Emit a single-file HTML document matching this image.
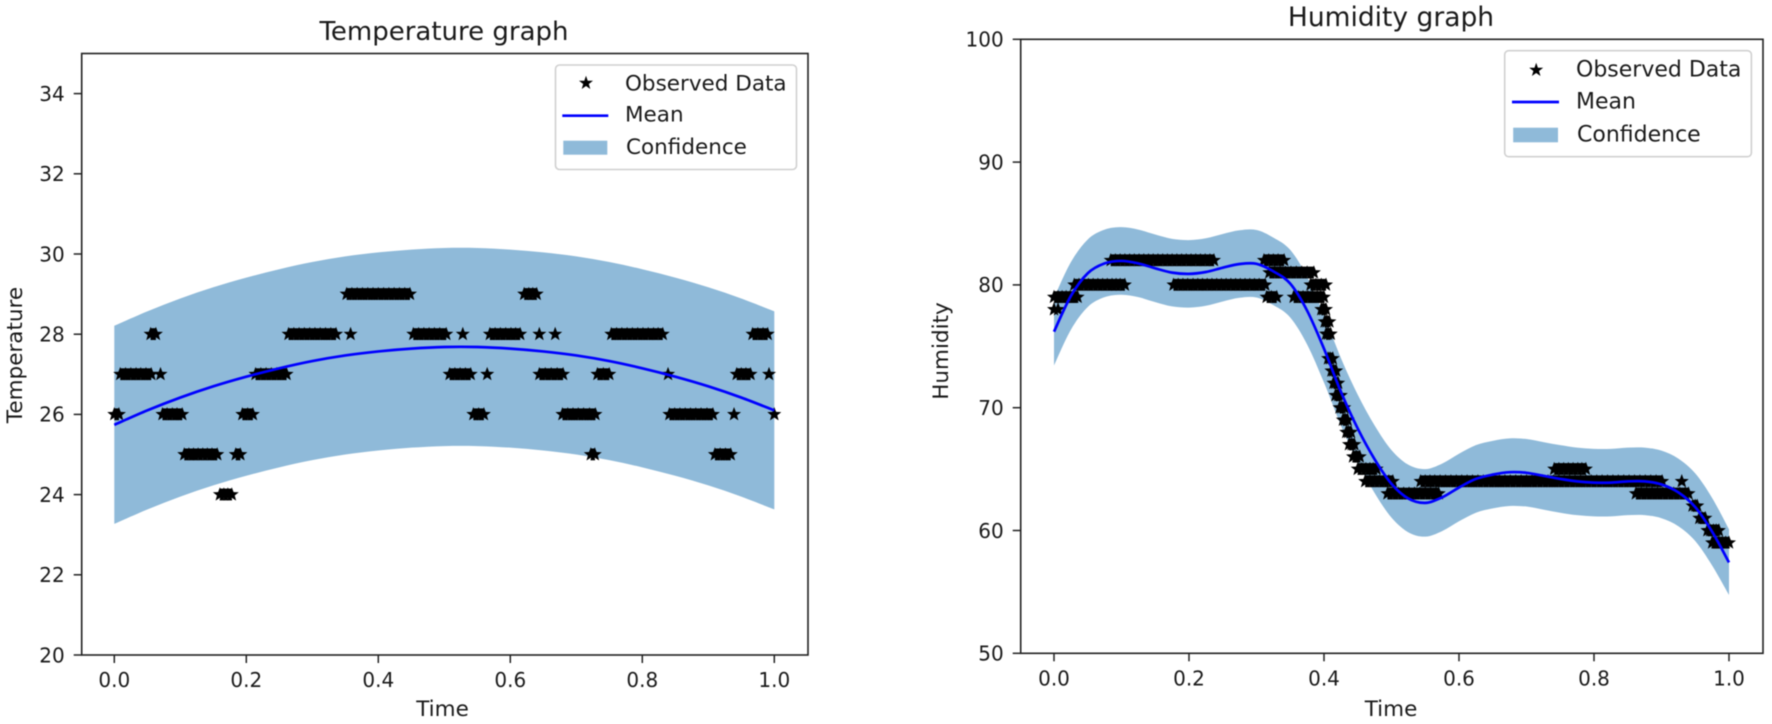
<!DOCTYPE html>
<html>
<head>
<meta charset="utf-8">
<title>Temperature and Humidity graphs</title>
<style>
html,body{margin:0;padding:0;background:#fff;width:1772px;height:724px;overflow:hidden}
svg{display:block;filter:blur(0.4px)}
text{font-family:"DejaVu Sans","Liberation Sans",sans-serif;fill:#1a1a1a;font-size:20px}
.lab{font-size:21.5px}
.leg-r{font-size:22px}
</style>
</head>
<body>
<svg id="figure" xmlns="http://www.w3.org/2000/svg" width="1772" height="724" viewBox="0 0 1772 724">
  <g id="temp-plot"></g>
  <g id="hum-plot"></g>

  <text x="444" y="40" text-anchor="middle" style="font-size:26px">Temperature graph</text>
  <text class="lab" x="442.5" y="716" text-anchor="middle">Time</text>
  <text class="lab" transform="translate(22,355) rotate(-90)" text-anchor="middle">Temperature</text>

  <text x="1391" y="26" text-anchor="middle" style="font-size:26.5px">Humidity graph</text>
  <text class="lab" x="1391" y="716" text-anchor="middle">Time</text>
  <text class="lab" transform="translate(948,351) rotate(-90)" text-anchor="middle">Humidity</text>

  <g>
    <rect x="555.5" y="65" width="241" height="104.5" rx="4" fill="#fff" fill-opacity="0.8" stroke="#d0d0d0" stroke-width="1.6"/>
    <path fill="#000" d="M586 75.7L587.7 80.7L593 80.7L588.8 84L590.3 89L586 86L581.7 89L583.2 84L579 80.7L584.3 80.7Z"/>
    <line x1="562.3" x2="608.3" y1="115.7" y2="115.7" stroke="#0000ff" stroke-width="2.7"/>
    <rect x="563.3" y="140.7" width="44" height="14" fill="#8fbad9"/>
    <text class="lab" x="625" y="90.7">Observed Data</text>
    <text class="lab" x="625" y="121.7">Mean</text>
    <text class="lab" x="626" y="154">Confidence</text>
  </g>

  <g>
    <rect x="1504.7" y="50.7" width="246.7" height="106" rx="4" fill="#fff" fill-opacity="0.8" stroke="#d0d0d0" stroke-width="1.6"/>
    <path fill="#000" d="M1536.2 62.7L1537.9 67.7L1543.2 67.7L1539 71L1540.5 76L1536.2 73L1531.9 76L1533.4 71L1529.2 67.7L1534.5 67.7Z"/>
    <line x1="1512" x2="1559" y1="102" y2="102" stroke="#0000ff" stroke-width="2.7"/>
    <rect x="1513.2" y="127.7" width="44.8" height="14.6" fill="#8fbad9"/>
    <text class="leg-r" x="1576" y="76.7">Observed Data</text>
    <text class="leg-r" x="1576" y="108.3">Mean</text>
    <text class="leg-r" x="1577" y="141.7">Confidence</text>
  </g>
</svg>

<script>
/* ---------- Shared tick labels ---------- */
const xTickValues = [0, 0.2, 0.4, 0.6, 0.8, 1.0];
const xTickLabels = ["0.0", "0.2", "0.4", "0.6", "0.8", "1.0"];

/* ---------- Temperature chart data ---------- */
const tempYTicks = [20, 22, 24, 26, 28, 30, 32, 34];
const tempCurveTimes = [0, 0.05, 0.1, 0.15, 0.2, 0.25, 0.3, 0.35, 0.4, 0.45, 0.5, 0.55, 0.6, 0.65, 0.7, 0.75, 0.8, 0.85, 0.9, 0.95, 1];
const tempMean = [25.74, 26.1, 26.42, 26.7, 26.94, 27.15, 27.33, 27.47, 27.57, 27.64, 27.68, 27.68, 27.64, 27.57, 27.47, 27.33, 27.15, 26.94, 26.7, 26.42, 26.1];
const tempUpper = [28.21, 28.57, 28.89, 29.17, 29.41, 29.62, 29.8, 29.94, 30.04, 30.11, 30.15, 30.15, 30.11, 30.04, 29.94, 29.8, 29.62, 29.41, 29.17, 28.89, 28.57];
const tempLower = [23.27, 23.63, 23.95, 24.23, 24.47, 24.68, 24.86, 25.0, 25.1, 25.17, 25.21, 25.21, 25.17, 25.1, 25.0, 24.86, 24.68, 24.47, 24.23, 23.95, 23.63];
const tempObsLevels = [24, 25, 26, 27, 28, 29];
const tempObsTimes = [
  [0.160, 0.166, 0.172, 0.178],
  [0.106, 0.113, 0.120, 0.127, 0.134, 0.141, 0.148, 0.156, 0.184, 0.191, 0.722, 0.728, 0.910, 0.918, 0.926, 0.934],
  [0, 0.007, 0.073, 0.080, 0.088, 0.095, 0.103, 0.194, 0.202, 0.210, 0.544, 0.552, 0.560, 0.679, 0.687, 0.695, 0.703, 0.711, 0.720, 0.729, 0.841, 0.849, 0.857, 0.865, 0.873, 0.881, 0.889, 0.898, 0.907, 0.939, 1.0],
  [0.009, 0.017, 0.025, 0.033, 0.040, 0.048, 0.056, 0.070, 0.214, 0.222, 0.230, 0.238, 0.246, 0.254, 0.261, 0.508, 0.516, 0.524, 0.532, 0.540, 0.565, 0.644, 0.653, 0.662, 0.671, 0.680, 0.732, 0.741, 0.750, 0.839, 0.943, 0.950, 0.957, 0.964, 0.992],
  [0.055, 0.063, 0.264, 0.272, 0.280, 0.288, 0.296, 0.304, 0.312, 0.320, 0.328, 0.336, 0.358, 0.453, 0.461, 0.469, 0.477, 0.485, 0.493, 0.503, 0.528, 0.569, 0.577, 0.585, 0.593, 0.601, 0.608, 0.615, 0.644, 0.668, 0.753, 0.761, 0.769, 0.777, 0.785, 0.793, 0.801, 0.809, 0.817, 0.824, 0.831, 0.967, 0.975, 0.983, 0.990],
  [0.352, 0.360, 0.368, 0.376, 0.384, 0.392, 0.400, 0.408, 0.416, 0.424, 0.432, 0.440, 0.448, 0.621, 0.628, 0.634, 0.640]
];

/* ---------- Humidity chart data ---------- */
const humYTicks = [50, 60, 70, 80, 90, 100];
const humCurveTimes = [0, 0.025, 0.05, 0.075, 0.1, 0.125, 0.15, 0.175, 0.2, 0.225, 0.25, 0.275, 0.3, 0.325, 0.35, 0.375, 0.4, 0.425, 0.45, 0.475, 0.5, 0.525, 0.55, 0.575, 0.6, 0.625, 0.65, 0.675, 0.7, 0.725, 0.75, 0.775, 0.8, 0.825, 0.85, 0.875, 0.9, 0.925, 0.95, 0.975, 1];
const humMean = [76.19, 79.1, 80.95, 81.75, 81.95, 81.75, 81.35, 81.0, 80.9, 81.05, 81.4, 81.7, 81.72, 81.1, 80.1, 77.9, 74.8, 71.3, 68.3, 65.8, 63.8, 62.6, 62.25, 62.7, 63.5, 64.2, 64.55, 64.75, 64.7, 64.45, 64.2, 64.0, 63.9, 63.9, 64.0, 64.0, 63.75, 63.1, 61.9, 59.9, 57.4];
const humUpper = [78.94, 81.85, 83.7, 84.5, 84.7, 84.5, 84.1, 83.75, 83.65, 83.8, 84.15, 84.45, 84.47, 83.85, 82.85, 80.65, 77.55, 74.05, 71.05, 68.55, 66.55, 65.35, 65.0, 65.45, 66.25, 66.95, 67.3, 67.5, 67.45, 67.2, 66.95, 66.75, 66.65, 66.65, 66.75, 66.75, 66.5, 65.85, 64.65, 62.65, 60.1];
const humLower = [73.44, 76.35, 78.2, 79.0, 79.2, 79.0, 78.6, 78.25, 78.15, 78.3, 78.65, 78.95, 78.97, 78.35, 77.35, 75.15, 72.05, 68.55, 65.55, 63.05, 61.05, 59.85, 59.5, 59.95, 60.75, 61.45, 61.8, 62.0, 61.95, 61.7, 61.45, 61.25, 61.15, 61.15, 61.25, 61.25, 61.0, 60.35, 59.15, 57.15, 54.75];
const humObsLevels = [59, 60, 61, 62, 63, 64, 65, 66, 67, 68, 69, 70, 71, 72, 73, 74, 76, 77, 78, 79, 80, 81, 82];
const humObsTimes = [
  [0.975, 0.980, 0.985, 0.990, 0.995, 1.0],
  [0.968, 0.972, 0.977, 0.981, 0.985],
  [0.956, 0.960, 0.965],
  [0.946, 0.950, 0.953],
  [0.494, 0.502, 0.510, 0.518, 0.526, 0.534, 0.542, 0.550, 0.558, 0.566, 0.570, 0.862, 0.870, 0.878, 0.886, 0.894, 0.902, 0.910, 0.918, 0.927, 0.935, 0.940],
  [0.461, 0.468, 0.475, 0.482, 0.489, 0.496, 0.502, 0.543, 0.550, 0.557, 0.564, 0.572, 0.580, 0.588, 0.596, 0.604, 0.612, 0.620, 0.628, 0.636, 0.644, 0.652, 0.660, 0.668, 0.676, 0.684, 0.692, 0.700, 0.708, 0.716, 0.724, 0.732, 0.740, 0.748, 0.756, 0.764, 0.772, 0.780, 0.788, 0.796, 0.804, 0.812, 0.820, 0.828, 0.836, 0.844, 0.852, 0.860, 0.868, 0.876, 0.884, 0.892, 0.901, 0.930],
  [0.450, 0.456, 0.462, 0.468, 0.473, 0.478, 0.741, 0.748, 0.755, 0.762, 0.769, 0.776, 0.782, 0.788],
  [0.443, 0.448, 0.453],
  [0.437, 0.441, 0.445],
  [0.433, 0.436, 0.440],
  [0.428, 0.431, 0.435],
  [0.423, 0.426, 0.430],
  [0.417, 0.421, 0.425],
  [0.414, 0.417, 0.421],
  [0.411, 0.414, 0.418],
  [0.406, 0.409, 0.413],
  [0.403, 0.406, 0.410],
  [0.401, 0.404, 0.408],
  [0.396, 0.399, 0.403],
  [0, 0.006, 0.012, 0.018, 0.024, 0.030, 0.035, 0.315, 0.322, 0.330, 0.355, 0.362, 0.369, 0.376, 0.383, 0.390, 0.395, 0.400],
  [0.030, 0.037, 0.044, 0.051, 0.058, 0.065, 0.072, 0.079, 0.086, 0.092, 0.098, 0.105, 0.177, 0.184, 0.191, 0.198, 0.206, 0.213, 0.220, 0.227, 0.234, 0.241, 0.248, 0.255, 0.262, 0.269, 0.276, 0.283, 0.290, 0.297, 0.304, 0.313, 0.380, 0.388, 0.396, 0.403],
  [0.319, 0.327, 0.335, 0.343, 0.351, 0.359, 0.367, 0.375, 0.385],
  [0.084, 0.091, 0.098, 0.105, 0.112, 0.119, 0.126, 0.133, 0.140, 0.147, 0.154, 0.161, 0.168, 0.175, 0.182, 0.189, 0.196, 0.203, 0.210, 0.217, 0.224, 0.231, 0.237, 0.311, 0.318, 0.325, 0.332, 0.341]
];
const humExtraTimes = [0, 0.006];
const humExtraValues = [78, 78];

/* ---------- Drawing helpers ---------- */
const SVG_NS = "http://www.w3.org/2000/svg";
const RUN_GAP = 0.0125;

function starPath(cx, cy, r) {
  const inner = r * 0.42;
  let d = "";
  for (let i = 0; i < 10; i++) {
    const rad = i % 2 === 0 ? r : inner;
    const a = -Math.PI / 2 + i * Math.PI / 5;
    d += (i === 0 ? "M" : "L") + (cx + rad * Math.cos(a)).toFixed(2) + " " + (cy + rad * Math.sin(a)).toFixed(2);
  }
  return d + "Z";
}

function curveSegments(xs, ys) {
  let d = "";
  for (let i = 0; i < xs.length - 1; i++) {
    const x0 = xs[Math.max(i - 1, 0)], y0 = ys[Math.max(i - 1, 0)];
    const x1 = xs[i], y1 = ys[i], x2 = xs[i + 1], y2 = ys[i + 1];
    const x3 = xs[Math.min(i + 2, xs.length - 1)], y3 = ys[Math.min(i + 2, ys.length - 1)];
    const c1x = x1 + (x2 - x0) / 6, c1y = y1 + (y2 - y0) / 6;
    const c2x = x2 - (x3 - x1) / 6, c2y = y2 - (y3 - y1) / 6;
    d += "C" + c1x.toFixed(2) + " " + c1y.toFixed(2) + " " + c2x.toFixed(2) + " " + c2y.toFixed(2) + " " + x2.toFixed(2) + " " + y2.toFixed(2);
  }
  return d;
}

function make(tag, parent) {
  const el = document.createElementNS(SVG_NS, tag);
  parent.appendChild(el);
  return el;
}

function drawChart(root, box, xAt, yAt, yTicks, curveTimes, mean, upper, lower, levels, times, extraT, extraV) {
  /* Confidence band */
  const px = curveTimes.map(xAt);
  const up = upper.map(yAt);
  const lo = lower.map(yAt);
  const band = make("path", root);
  
  
  const rpx = px.slice().reverse();
  const rlo = lo.slice().reverse();
  band.setAttribute("d", "M" + px[0] + " " + up[0] + curveSegments(px, up) + "L" + rpx[0] + " " + rlo[0] + curveSegments(rpx, rlo) + "Z");
  band.setAttribute("fill", "#8fbad9");

  /* Observed points */
  const pts = make("g", root);
  
  
  function addPoint(t, v) {
    const star = make("path", pts);
    
    
    star.setAttribute("d", starPath(xAt(t), yAt(v), 7.4));
    star.setAttribute("fill", "#000");
  }
  function addRunFill(t1, t2, v) {
    const fill = make("rect", pts);
    
    
    fill.setAttribute("x", xAt(t1));
    fill.setAttribute("y", yAt(v) - 6);
    fill.setAttribute("width", xAt(t2) - xAt(t1));
    fill.setAttribute("height", 11.8);
    fill.setAttribute("fill", "#000");
  }
  levels.forEach(function (level, i) {
    const list = times[i];
    list.forEach(function (t, k) {
      addPoint(t, level);
      if (k > 0 && t - list[k - 1] <= RUN_GAP) {
        addRunFill(list[k - 1], t, level);
      }
    });
  });
  extraT.forEach(function (t, i) { addPoint(t, extraV[i]); });

  /* Mean line */
  const ys = mean.map(yAt);
  const line = make("path", root);
  
  
  line.setAttribute("d", "M" + px[0] + " " + ys[0] + curveSegments(px, ys));
  line.setAttribute("fill", "none");
  line.setAttribute("stroke", "#0000ff");
  line.setAttribute("stroke-width", "2.7");

  /* Frame */
  const frame = make("rect", root);
  
  
  frame.setAttribute("x", box.left);
  frame.setAttribute("y", box.top);
  frame.setAttribute("width", box.right - box.left);
  frame.setAttribute("height", box.bottom - box.top);
  frame.setAttribute("fill", "none");
  frame.setAttribute("stroke", "#222");
  frame.setAttribute("stroke-width", "1.6");

  /* X ticks */
  xTickValues.forEach(function (t, i) {
    const tick = make("line", root);
    
    
    tick.setAttribute("x1", xAt(t));
    tick.setAttribute("x2", xAt(t));
    tick.setAttribute("y1", box.bottom);
    tick.setAttribute("y2", box.bottom + 8);
    tick.setAttribute("stroke", "#222");
    tick.setAttribute("stroke-width", "1.5");
    const label = make("text", root);
    
    
    label.setAttribute("x", xAt(t));
    label.setAttribute("y", box.bottom + 32);
    label.setAttribute("text-anchor", "middle");
    label.textContent = xTickLabels[i];
  });

  /* Y ticks */
  yTicks.forEach(function (v) {
    const tick = make("line", root);
    
    
    tick.setAttribute("x1", box.left - 8);
    tick.setAttribute("x2", box.left);
    tick.setAttribute("y1", yAt(v));
    tick.setAttribute("y2", yAt(v));
    tick.setAttribute("stroke", "#222");
    tick.setAttribute("stroke-width", "1.5");
    const label = make("text", root);
    
    
    label.setAttribute("x", box.left - 17);
    label.setAttribute("y", yAt(v) + 7.3);
    label.setAttribute("text-anchor", "end");
    label.textContent = String(v);
  });
}

/* ---------- Axis functions ---------- */
const tempBox = { left: 81.7, right: 808, top: 53.5, bottom: 655 };
function tempX(t) { return 114.3 + 660 * t; }
function tempY(v) { return 655 - 40.1 * (v - 20); }

const humBox = { left: 1020.7, right: 1763, top: 39.3, bottom: 653.3 };
function humX(t) { return 1054 + 675 * t; }
function humY(v) { return 653.3 - 12.28 * (v - 50); }

drawChart(document.getElementById("temp-plot"), tempBox, tempX, tempY, tempYTicks, tempCurveTimes, tempMean, tempUpper, tempLower, tempObsLevels, tempObsTimes, [], []);
drawChart(document.getElementById("hum-plot"), humBox, humX, humY, humYTicks, humCurveTimes, humMean, humUpper, humLower, humObsLevels, humObsTimes, humExtraTimes, humExtraValues);
</script>
</body>
</html>
